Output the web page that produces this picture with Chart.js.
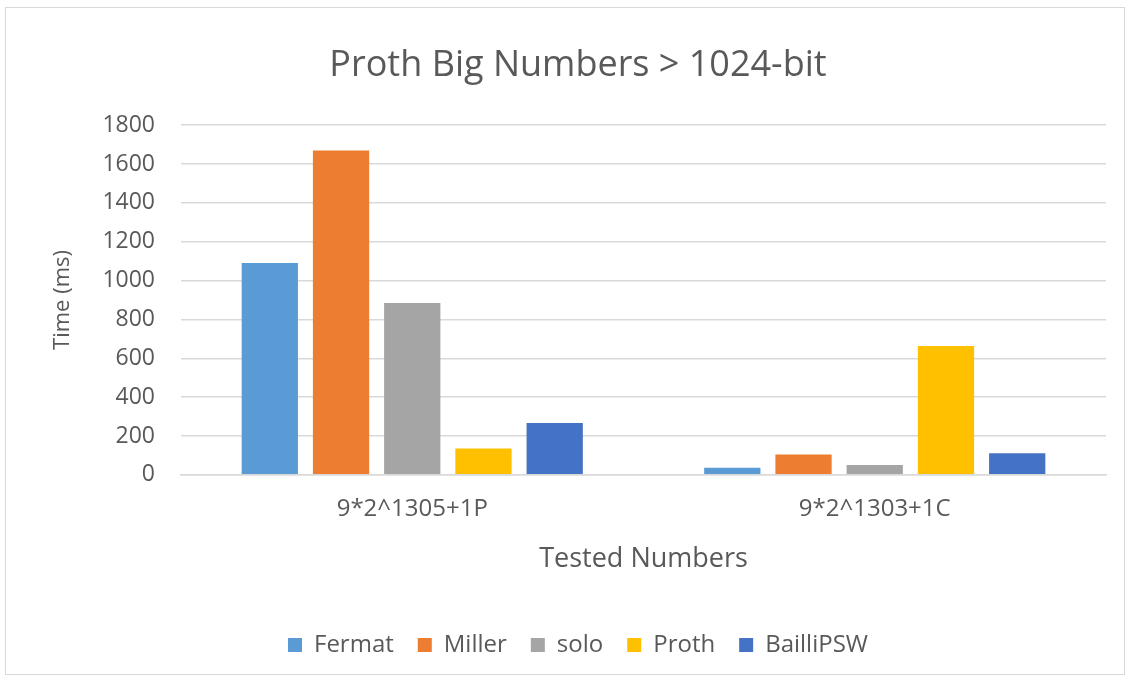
<!DOCTYPE html>
<html>
<head>
<meta charset="utf-8">
<script src="https://cdn.jsdelivr.net/npm/chart.js@4"></script>
<style>
  html, body { margin: 0; padding: 0; background: #fff; }
  #wrap {
    position: absolute; left: 5px; top: 7px; width: 1120px; height: 668px;
    border: 1px solid #d9d9d9; box-sizing: border-box;
  }
  #chart { position: absolute; left: 0; top: 0; }
</style>
</head>
<body>
<div id="wrap"><canvas id="chart" width="1120" height="668"></canvas></div>
<script>
// chart data
const categories = ['9*2^1305+1P', '9*2^1303+1C'];
const fermat = [1090, 36];
const miller = [1670, 105];
const solo = [885, 51];
const proth = [135, 663];
const bailliPSW = [267, 111];

const seriesNames = ['Fermat', 'Miller', 'solo', 'Proth', 'BailliPSW'];
const seriesColors = ['#5B9BD5', '#ED7D31', '#A5A5A5', '#FFC000', '#4472C4'];
const seriesValues = [fermat, miller, solo, proth, bailliPSW];

const textColor = '#595959';
const fontFamily = '"Open Sans", "Noto Sans", sans-serif';

const datasets = seriesNames.map((name, i) => ({
  label: name,
  data: seriesValues[i],
  backgroundColor: seriesColors[i],
  barPercentage: 0.79,
  categoryPercentage: 0.77
}));

new Chart(document.getElementById('chart'), {
  type: 'bar',
  data: { labels: categories, datasets: datasets },
  options: {
    responsive: false,
    animation: false,
    layout: { padding: { left: 44, right: 20, top: 0, bottom: 9 } },
    plugins: {
      title: {
        display: true,
        text: 'Proth Big Numbers > 1024-bit',
        color: textColor,
        font: { family: fontFamily, size: 36, weight: 'normal' },
        padding: { top: 36, bottom: 38 }
      },
      legend: {
        position: 'bottom',
        labels: {
          color: textColor,
          font: { family: fontFamily, size: 24 },
          boxWidth: 14,
          boxHeight: 14,
          padding: 24
        }
      },
      tooltip: { enabled: false }
    },
    scales: {
      x: {
        grid: { display: false },
        border: { color: '#d9d9d9', width: 1.5 },
        ticks: { color: textColor, font: { family: fontFamily, size: 24 }, padding: 12 },
        title: {
          display: true,
          text: 'Tested Numbers',
          color: textColor,
          font: { family: fontFamily, size: 27 },
          padding: { top: 8, bottom: 33 }
        }
      },
      y: {
        min: 0,
        max: 1800,
        ticks: {
          stepSize: 200,
          color: textColor,
          font: { family: fontFamily, size: 23 },
          padding: 26,
          callback: (v) => String(v)
        },
        grid: { color: '#d9d9d9', lineWidth: 1.5, drawTicks: false },
        border: { display: false },
        title: {
          display: true,
          text: 'Time (ms)',
          color: textColor,
          font: { family: fontFamily, size: 22 },
          padding: { top: 0, bottom: 0 }
        }
      }
    }
  }
});
</script>
</body>
</html>
